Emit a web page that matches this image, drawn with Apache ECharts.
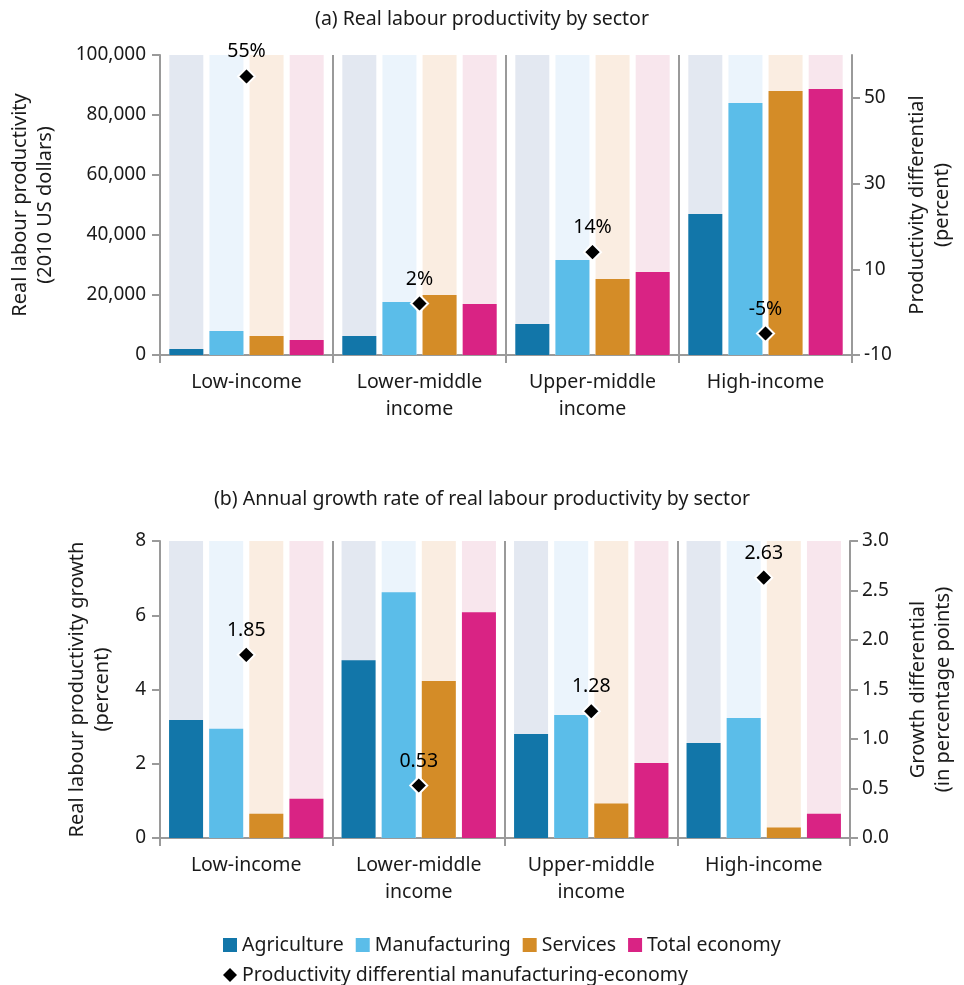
<!DOCTYPE html>
<html>
<head>
<meta charset="utf-8">
<script src="https://cdn.jsdelivr.net/npm/echarts@6/dist/echarts.min.js"></script>
<style>
  html, body { margin: 0; padding: 0; background: #fff; }
  #chart { width: 964px; height: 985px; }
</style>
</head>
<body>
<div id="chart"></div>
<script>
// income groups and sectors
const groups = ['Low-income', 'Lower-middle\nincome', 'Upper-middle\nincome', 'High-income']
const sectors = ['Agriculture', 'Manufacturing', 'Services', 'Total economy']
const diffName = 'Productivity differential manufacturing-economy'

// (a) real labour productivity, 2010 US dollars
const levelAgriculture = [2000, 6300, 10300, 47000]
const levelManufacturing = [8000, 17700, 31700, 84000]
const levelServices = [6300, 20000, 25300, 88000]
const levelTotal = [5000, 17000, 27700, 88700]
const levelDiff = [55, 2, 14, -5]

// (b) annual growth rate, percent
const growthAgriculture = [3.18, 4.79, 2.80, 2.56]
const growthManufacturing = [2.94, 6.62, 3.31, 3.23]
const growthServices = [0.65, 4.23, 0.93, 0.28]
const growthTotal = [1.06, 6.08, 2.02, 0.65]
const growthDiff = [1.85, 0.53, 1.28, 2.63]

// tick labels
const diffTicksA = [-10, 10, 30, 50]
const diffTicksB = [0, 0.5, 1.0, 1.5, 2.0, 2.5, 3.0]

const colors = ['#1276a9', '#5bbde9', '#d48c27', '#d92384']
const paleColors = ['#e3e8f1', '#ebf4fc', '#faede1', '#f8e6ed']
const font = 'Noto Sans'
const textColor = '#1a1a1a'
const axisGray = '#9a9a9a'

const chart = echarts.init(document.getElementById('chart'))

function catAxis(gridIndex) {
  return {
    type: 'category', gridIndex, data: groups,
    axisLine: { lineStyle: { color: axisGray, width: 2 } },
    axisTick: { show: true, length: 8, lineStyle: { color: axisGray, width: 2 } },
    splitLine: { show: true, lineStyle: { color: axisGray, width: 2 } },
    axisLabel: { color: textColor, fontFamily: font, fontSize: 19.5, lineHeight: 27, margin: 14 }
  }
}

function valAxis(gridIndex, extra) {
  return Object.assign({
    type: 'value', gridIndex,
    axisLine: { show: true, lineStyle: { color: axisGray, width: 2 } },
    axisTick: { show: true, length: 8, lineStyle: { color: axisGray, width: 2 } },
    splitLine: { show: false },
    axisLabel: { color: textColor, fontFamily: font, fontSize: 19, margin: 14 },
    nameLocation: 'middle',
    nameTextStyle: { color: textColor, fontFamily: font, fontSize: 20, lineHeight: 25 }
  }, extra)
}

function barSeries(name, data, i, xi, yi) {
  return {
    name, type: 'bar', data, xAxisIndex: xi, yAxisIndex: yi,
    barWidth: 34, barGap: '18%',
    itemStyle: { color: colors[i] },
    showBackground: true,
    backgroundStyle: { color: paleColors[i] }
  }
}

function diffSeries(data, xi, yi, fmt) {
  return {
    name: diffName, type: 'scatter', data, xAxisIndex: xi, yAxisIndex: yi,
    symbol: 'diamond', symbolSize: 17, z: 5,
    itemStyle: { color: '#000', opacity: 1, borderColor: '#fff', borderWidth: 2 },
    label: {
      show: true, position: 'top', distance: 5, formatter: fmt,
      color: '#000', fontFamily: font, fontSize: 19.5
    }
  }
}

const option = {
  animation: false,
  title: [
    { text: '(a) Real labour productivity by sector', left: 'center', top: 4,
      textStyle: { color: textColor, fontFamily: font, fontSize: 19.5, fontWeight: 'normal' } },
    { text: '(b) Annual growth rate of real labour productivity by sector', left: 'center', top: 484,
      textStyle: { color: textColor, fontFamily: font, fontSize: 19.5, fontWeight: 'normal' } }
  ],
  grid: [
    { left: 160, right: 112, top: 55, height: 300 },
    { left: 160, right: 112, top: 541, height: 297 }
  ],
  legend: [
    { data: sectors, left: 218, top: 930, icon: 'rect', itemWidth: 14, itemHeight: 14, itemGap: 12,
      textStyle: { color: textColor, fontFamily: font, fontSize: 19.5 } },
    { data: [diffName], left: 218, top: 960, icon: 'diamond', itemWidth: 14, itemHeight: 14,
      itemStyle: { color: '#000', borderWidth: 0 },
      textStyle: { color: textColor, fontFamily: font, fontSize: 19.5 } }
  ],
  xAxis: [catAxis(0), catAxis(1)],
  yAxis: [
    valAxis(0, { min: 0, max: 100000, interval: 20000,
      name: 'Real labour productivity\n(2010 US dollars)', nameGap: 102,
      axisLabel: { color: textColor, fontFamily: font, fontSize: 19, margin: 14,
        formatter: v => v.toLocaleString('en-US') } }),
    valAxis(0, { position: 'right', min: -10, max: 60,
      name: 'Productivity differential\n(percent)', nameGap: 53,
      axisTick: { show: true, length: 8, lineStyle: { color: axisGray, width: 2 }, customValues: diffTicksA },
      axisLabel: { color: textColor, fontFamily: font, fontSize: 19, margin: 12, customValues: diffTicksA } }),
    valAxis(1, { min: 0, max: 8, interval: 2,
      name: 'Real labour productivity growth\n(percent)', nameGap: 45 }),
    valAxis(1, { position: 'right', min: 0, max: 3, interval: 0.5,
      name: 'Growth differential\n(in percentage points)', nameGap: 56,
      axisLabel: { color: textColor, fontFamily: font, fontSize: 19, margin: 12,
        customValues: diffTicksB, formatter: v => v.toFixed(1) } })
  ],
  series: [
    barSeries(sectors[0], levelAgriculture, 0, 0, 0),
    barSeries(sectors[1], levelManufacturing, 1, 0, 0),
    barSeries(sectors[2], levelServices, 2, 0, 0),
    barSeries(sectors[3], levelTotal, 3, 0, 0),
    diffSeries(levelDiff, 0, 1, p => p.value + '%'),
    barSeries(sectors[0], growthAgriculture, 0, 1, 2),
    barSeries(sectors[1], growthManufacturing, 1, 1, 2),
    barSeries(sectors[2], growthServices, 2, 1, 2),
    barSeries(sectors[3], growthTotal, 3, 1, 2),
    diffSeries(growthDiff, 1, 3, p => p.value.toFixed(2))
  ]
}

chart.setOption(option)
</script>
</body>
</html>
